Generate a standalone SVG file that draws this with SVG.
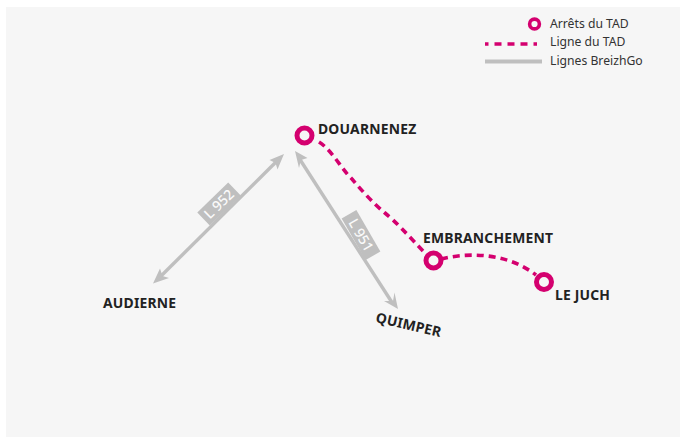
<svg xmlns="http://www.w3.org/2000/svg" width="684" height="438" viewBox="0 0 684 438">
<defs>
<style>
text{font-family:"Noto Sans","Open Sans","DejaVu Sans",sans-serif;fill:#222}
.n{font-size:13.9px;font-weight:700;letter-spacing:.2px}
.l{font-size:12.2px;fill:#333}
.s{fill:#f6f6f6;stroke:#d4006f;stroke-width:5}
.d{fill:none;stroke:#d4006f;stroke-width:3.6;stroke-dasharray:7 5}
.g{fill:none;stroke:#bfbfbf;stroke-width:3.4}
.h{fill:#bfbfbf}
.t{font-size:14px;fill:#fafafa;font-weight:500}
</style>
</defs>
<rect x="6" y="7" width="674" height="430" fill="#f6f6f6"/>
<g id="connectors">
<path class="d" d="M319 142C332 150 342 170 352 179C362 191 375 205 385 213C395 221 408 235 424 252"/>
<path class="d" d="M441 259C475 251 510 255 536 275"/>
<path class="g" d="M158 279L278 160"/>
<path class="h" d="M153 283.500L160 268.500L162.500 276L169 278Z"/>
<path class="h" d="M284 154L269.500 160L275.500 163L277.500 169.500Z"/>
<path class="g" d="M299 158L393 304"/>
<path class="h" d="M295 151L307.500 158L301 160L299 168Z"/>
<path class="h" d="M398 309L384 301L393 301L394.500 292.500Z"/>
</g>
<g id="label-l952">
<rect x="-21.500" y="-9" width="43" height="18" class="h" transform="translate(219 204) rotate(-44)"/>
<text class="t" text-anchor="middle" transform="translate(219 204) rotate(-44) translate(0 5)">L 952</text>
</g>
<g id="label-l951">
<rect x="-24" y="-8.500" width="48" height="17" class="h" transform="translate(361 235) rotate(60)"/>
<text class="t" text-anchor="middle" transform="translate(361 235) rotate(60) translate(0 5)">L 951</text>
</g>
<g id="douarnenez"><circle class="s" cx="304.500" cy="135.500" r="7.500"/><text class="n" x="318" y="134">DOUARNENEZ</text></g>
<g id="embranchement"><circle class="s" cx="433.500" cy="260.500" r="7.500"/><text class="n" x="423" y="243">EMBRANCHEMENT</text></g>
<g id="le-juch"><circle class="s" cx="544" cy="282" r="7.500"/><text class="n" x="555" y="300">LE JUCH</text></g>
<g id="audierne"><text class="n" x="103" y="308">AUDIERNE</text></g>
<g id="quimper"><text class="n" transform="translate(375 322) rotate(13)">QUIMPER</text></g>
<g id="legend">
<circle class="s" cx="534.500" cy="24" r="4.900" style="stroke-width:3.600"/>
<text class="l" x="550" y="28">Arrêts du TAD</text>
<path class="d" d="M485 44H542" style="stroke-dasharray:3.500 6 7 6 7 6 7 6"/>
<text class="l" x="550" y="46">Ligne du TAD</text>
<path d="M485 61.500H542" fill="none" stroke="#bfbfbf" stroke-width="4"/>
<text class="l" x="550" y="65">Lignes BreizhGo</text>
</g>
</svg>
